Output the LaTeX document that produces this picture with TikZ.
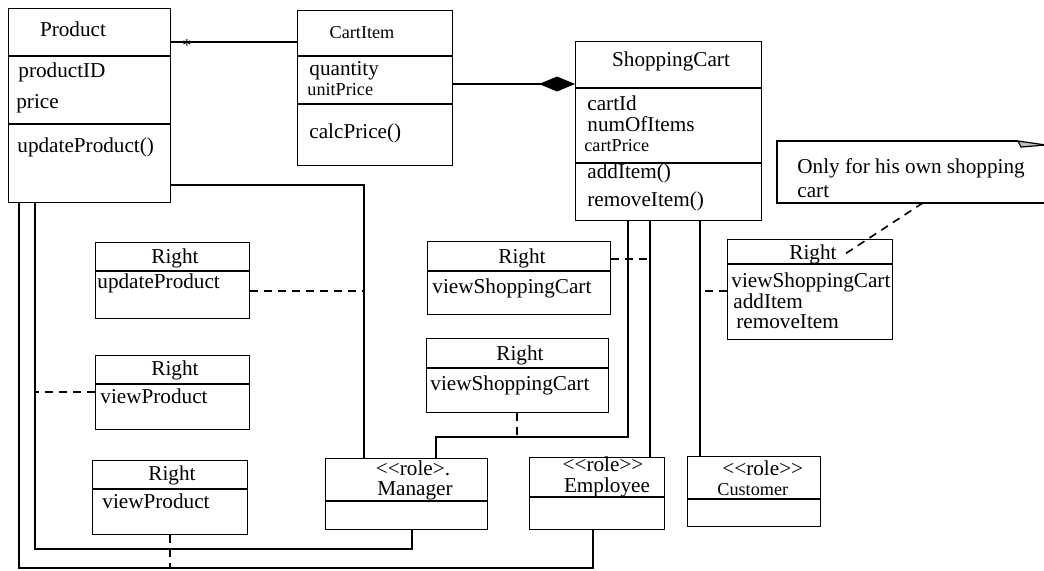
\documentclass[tikz,border=0pt]{standalone}
\usepackage{fontspec}
\setmainfont{Liberation Serif}
\usepackage{tikz}
\usetikzlibrary{arrows.meta}

\newcommand{\nsz}{\fontsize{10.6}{12}\selectfont}
\newcommand{\ssz}{\fontsize{9.1}{10}\selectfont}
\newcommand{\rolemark}{<\kern0pt<role>\kern0pt>}

\tikzset{
  cls/.style={draw, rectangle, anchor=north west, inner sep=0pt, line width=0.7pt},
  lbl/.style={inner sep=0pt, font=\nsz, text height=7pt, text depth=2pt},
  att/.style={lbl, anchor=west},
  rolelbl/.style={lbl, text height=6pt, text depth=1.5pt},
  link/.style={line width=0.8pt},
  dep/.style={line width=0.8pt, dash pattern=on 4pt off 3pt}
}

\begin{document}
\begin{tikzpicture}[x=0.5pt, y=-0.5pt]
\useasboundingbox (0,0) rectangle (1044,570);

% classes
\node[cls, minimum width=81pt, minimum height=97pt] (product) at (8,8) {};
\node[cls, minimum width=77.5pt, minimum height=77.5pt] (cartitem) at (297,10) {};
\node[cls, minimum width=93pt, minimum height=89.5pt] (cart) at (575,41) {};

\node[lbl] (product-t) at (73,31) {Product};
\node[att] (product-a1) at (18,72) {productID};
\node[att] (product-a2) at (16,103) {price};
\node[att] (product-m1) at (17,147) {updateProduct()};

\node[lbl, font=\ssz] (cartitem-t) at (362,33) {CartItem};
\node[att] (cartitem-a1) at (309,70) {quantity};
\node[att, font=\ssz] (cartitem-a2) at (307,90) {unitPrice};
\node[att] (cartitem-m1) at (309,133) {calcPrice()};

\node[lbl] (cart-t) at (671,61) {ShoppingCart};
\node[att] (cart-a1) at (587,105) {cartId};
\node[att] (cart-a2) at (587,126) {numOfItems};
\node[att, font=\ssz] (cart-a3) at (584,146) {cartPrice};
\node[att] (cart-m1) at (587,173) {addItem()};
\node[att] (cart-m2) at (587,201) {removeItem()};

% rights
\node[cls, minimum width=77pt, minimum height=38pt] (r1) at (95,242) {};
\node[cls, minimum width=77pt, minimum height=37pt] (r2) at (95,355) {};
\node[cls, minimum width=77.5pt, minimum height=37pt] (r3) at (92,460) {};
\node[cls, minimum width=91.5pt, minimum height=36.5pt] (r4) at (427,241) {};
\node[cls, minimum width=91pt, minimum height=37pt] (r5) at (426,338) {};
\node[cls, minimum width=82.5pt, minimum height=50pt] (r6) at (727,239) {};

\node[lbl] (r1-t) at (175,258) {Right};
\node[att] (r1-a) at (97,283) {updateProduct};
\node[lbl] (r2-t) at (175,370) {Right};
\node[att] (r2-a) at (100,398) {viewProduct};
\node[lbl] (r3-t) at (172,475) {Right};
\node[att] (r3-a) at (102,503) {viewProduct};
\node[lbl] (r4-t) at (522,258) {Right};
\node[att] (r4-a) at (432,288) {viewShoppingCart};
\node[lbl] (r5-t) at (520,355) {Right};
\node[att] (r5-a) at (430,385) {viewShoppingCart};
\node[lbl] (r6-t) at (813,254) {Right};
\node[att] (r6-a1) at (731,282) {viewShoppingCart};
\node[att] (r6-a2) at (733,303) {addItem};
\node[att] (r6-a3) at (736,323) {removeItem};

% roles
\node[cls, minimum width=81pt, minimum height=35.5pt] (manager) at (325,458) {};
\node[cls, minimum width=67.5pt, minimum height=36pt] (employee) at (529,457) {};
\node[cls, minimum width=66.5pt, minimum height=35pt] (customer) at (687,456) {};

\node[rolelbl] (manager-s) at (413,471) {<\kern0pt<role>.};
\node[rolelbl] (manager-t) at (415,491) {Manager};
\node[rolelbl] (employee-s) at (603,467) {\rolemark};
\node[rolelbl] (employee-t) at (607,488) {Employee};
\node[rolelbl, anchor=west] (customer-s) at (722,471) {\rolemark};
\node[rolelbl, anchor=west, font=\ssz] (customer-t) at (717,491) {Customer};

% compartments
\foreach \n/\y in {product/56, product/124, cartitem/56, cartitem/104,
                   cart/163, r1/271, r2/384, r3/489, r4/271, r5/368, r6/264,
                   manager/501, employee/497, customer/499}
  \draw[line width=0.7pt] (\n.west |- 0,\y) -- (\n.east |- 0,\y);
\draw[line width=1.2pt] (cart.west |- 0,88) -- (cart.east |- 0,88);

% note
\node[anchor=north west, inner sep=0pt, minimum width=133.5pt, minimum height=30.5pt] (note) at (777,141) {};
\draw[line width=0.7pt] (note.south east) -- (note.south west) -- (note.north west) -- ++(241,0) coordinate (fold);
\draw[line width=0.6pt, fill=gray!50] (fold) -- ++(28,4) -- ++(-25,2) -- cycle;
\node[att] (note-l1) at (797,168) {Only for his own shopping};
\node[att] (note-l2) at (797,192) {cart};

% associations
\draw[link] (product.east |- 0,42) -- (cartitem.west |- 0,42);
\node[inner sep=0pt, font=\ssz] (many) at (187,46) {*};
\draw[link, -{Diamond[length=18pt, width=7.5pt]}] (cartitem.east |- 0,84) -- (cart.west |- 0,84);

\draw[link] (product.east |- 0,185) -| (manager.north -| 364,0);
\draw[link] (cart.south -| 628,0) |- (436,437) -- (manager.north -| 436,0);
\draw[link] (cart.south -| 650,0) -- (employee.north -| 650,0);
\draw[link] (cart.south -| 700,0) -- (customer.north -| 700,0);
\draw[link] (product.south -| 35,0) -- (35,549) -| (manager.south -| 412,0);
\draw[link] (product.south -| 19,0) -- (19,568) -| (employee.south -| 593,0);

% rights to roles
\draw[dep] (r1.east |- 0,291) -- (364,291);
\draw[dep] (r2.west |- 0,392) -- (35,392);
\draw[dep] (r3.south -| 170,0) -- (170,568);
\draw[dep] (r4.east |- 0,259) -- (650,259);
\draw[dep] (r5.south -| 517,0) -- (517,437);
\draw[dep] (r6.west |- 0,291) -- (700,291);
\draw[dep] (note.south west) ++(146,0) -- ([xshift=4pt]r6-t.east);
\end{tikzpicture}
\end{document}
